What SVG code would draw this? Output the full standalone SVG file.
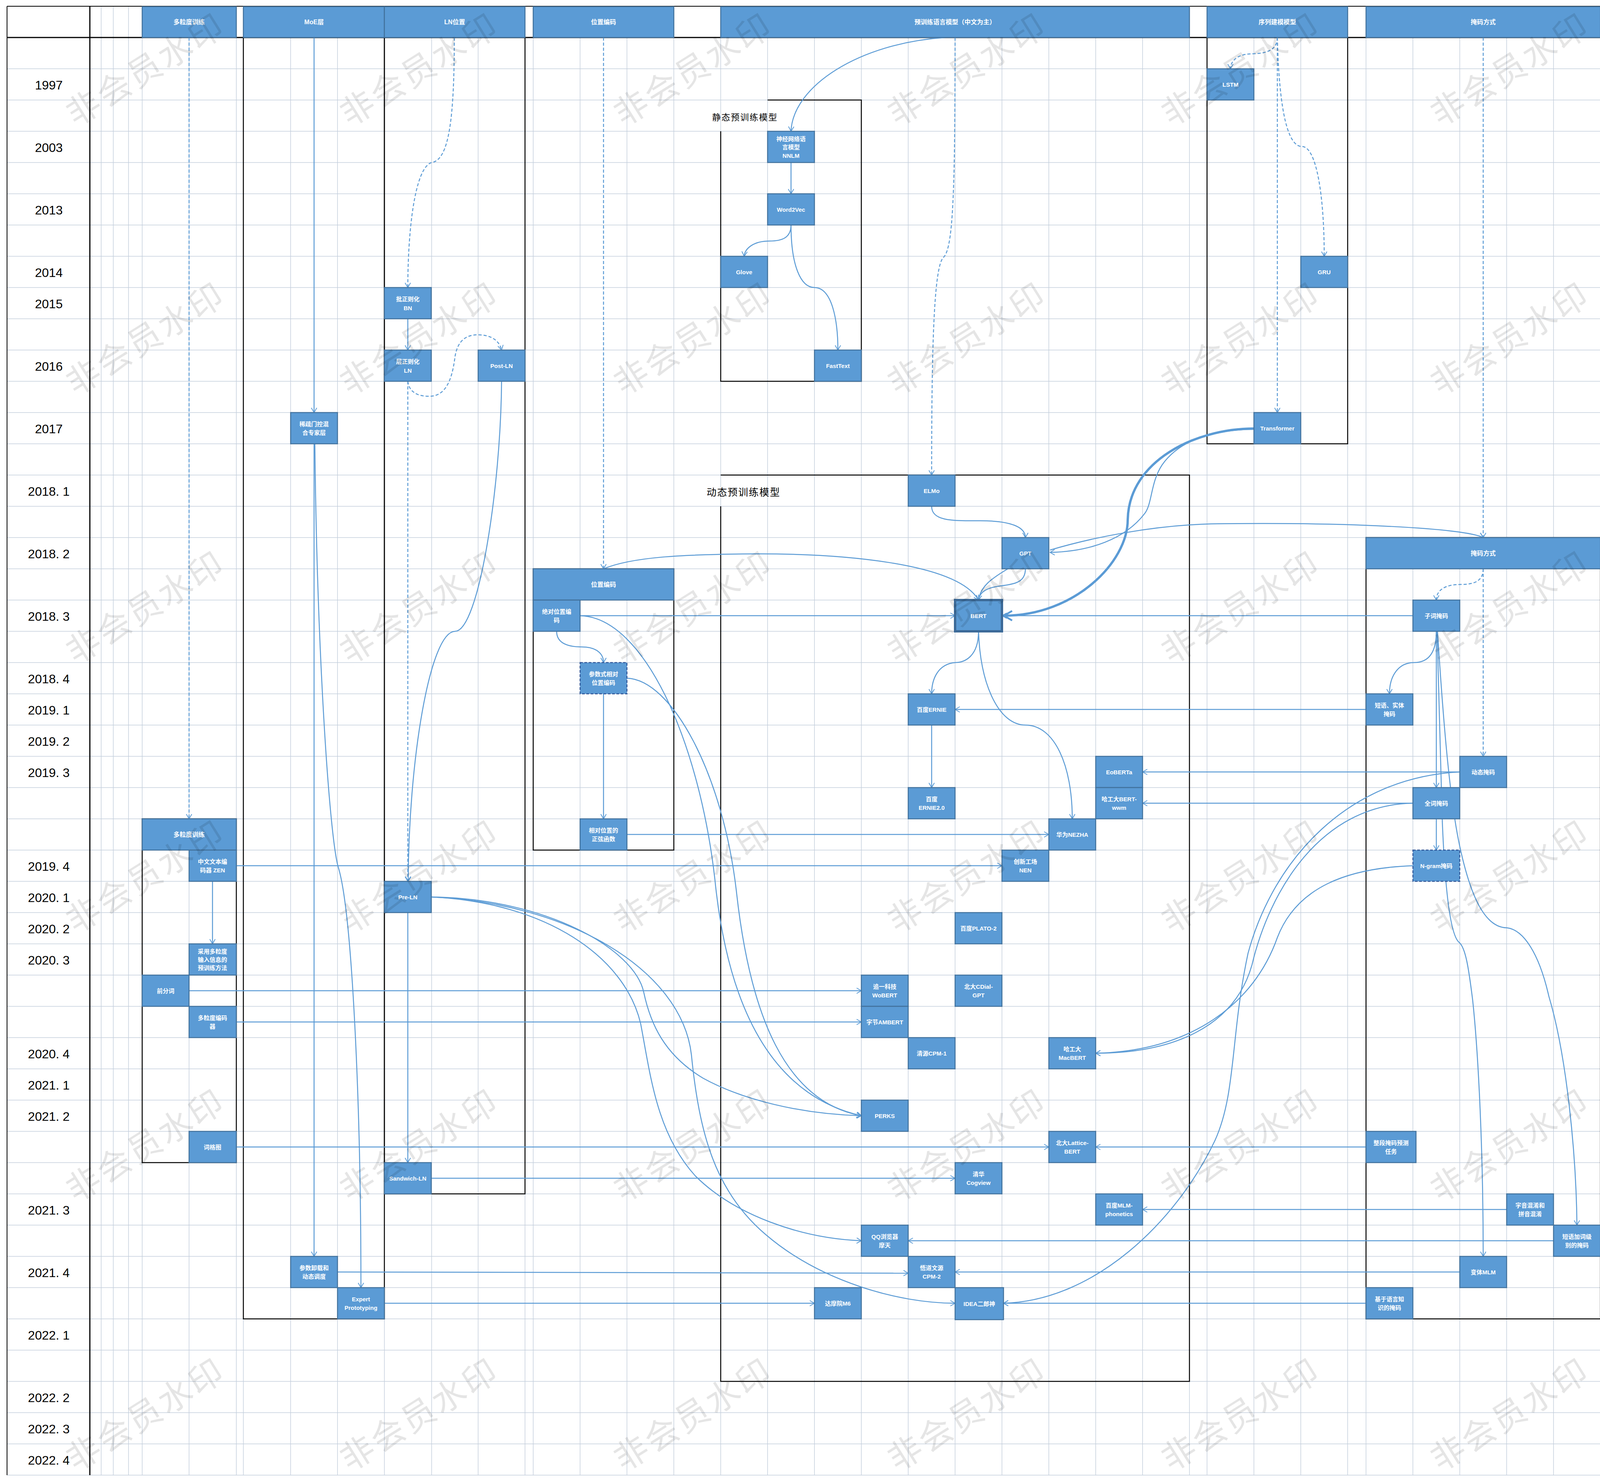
<svg xmlns="http://www.w3.org/2000/svg" width="4230" height="3791" viewBox="0 0 4230 3791">
<defs>
<style>
.g{fill:none;stroke:#C5CFDD;stroke-width:1.5}
.k{fill:none;stroke:#000;stroke-width:2.5}
.c{fill:none;stroke:#5B9BD5;stroke-width:2.5}
.d{fill:none;stroke:#5B9BD5;stroke-width:2.5;stroke-dasharray:8 5}
.n{fill:#5B9BD5;stroke:#41719C;stroke-width:2.5}
.nd{fill:#5B9BD5;stroke:#2F5597;stroke-width:2.5;stroke-dasharray:7 4}
.h{fill:#5B9BD5;stroke:#41719C;stroke-width:2.5}
.t{font-family:"Liberation Sans","Noto Sans CJK SC",sans-serif;font-size:15px;font-weight:bold;fill:#fff;text-anchor:middle;dominant-baseline:central}
.ht{font-family:"Liberation Sans","Noto Sans CJK SC",sans-serif;font-size:16px;font-weight:bold;fill:#fff;text-anchor:middle;dominant-baseline:central}
.y{font-family:"Liberation Sans","Noto Sans CJK SC",sans-serif;font-size:32px;fill:#000;text-anchor:middle;dominant-baseline:central}
.lb{font-family:"Noto Sans CJK SC",sans-serif;fill:#000;dominant-baseline:central}
.w{font-family:"Noto Sans CJK SC",sans-serif;font-size:86px;fill:#000;fill-opacity:0.1;text-anchor:middle;dominant-baseline:central;letter-spacing:6px}
</style>
<marker id="a" viewBox="0 0 14 16" refX="13" refY="8" markerWidth="14" markerHeight="16" markerUnits="userSpaceOnUse" orient="auto"><path d="M1,1 L13,8 L1,15" fill="none" stroke="#5B9BD5" stroke-width="2"/></marker>
<marker id="A" viewBox="0 0 14 16" refX="13" refY="8" markerWidth="26" markerHeight="28" markerUnits="userSpaceOnUse" orient="auto"><path d="M1,1 L13,8 L1,15" fill="none" stroke="#5B9BD5" stroke-width="2.6"/></marker>
</defs>
<rect x="0" y="0" width="4230" height="3791" fill="#fff"/>
<g id="grid">
<path class="g" d="M259,16V3776M290,16V3776M329,16V3776M364,16V3776M484,16V3776M605,16V3776M623,16V3776M744,16V3776M864,16V3776M984,16V3776M1105,16V3776M1224,16V3776M1344,16V3776M1365,16V3776M1485,16V3776M1605,16V3776M1725,16V3776M1845,16V3776M1965,16V3776M2085,16V3776M2205,16V3776M2325,16V3776M2445,16V3776M2565,16V3776M2685,16V3776M2805,16V3776M2925,16V3776M3045,16V3776M3090,16V3776M3210,16V3776M3330,16V3776M3450,16V3776M3497,16V3776M3617,16V3776M3737,16V3776M3857,16V3776M3977,16V3776M4097,16V3776M4217,16V3776"/>
<path class="g" d="M18,176H4217M18,256H4217M18,336H4217M18,416H4217M18,496H4217M18,576H4217M18,656H4217M18,736H4217M18,816H4217M18,896H4217M18,976H4217M18,1056H4217M18,1136H4217M18,1216H4217M18,1296H4217M18,1376H4217M18,1456H4217M18,1536H4217M18,1616H4217M18,1696H4217M18,1776H4217M18,1856H4217M18,1936H4217M18,2016H4217M18,2096H4217M18,2176H4217M18,2256H4217M18,2336H4217M18,2416H4217M18,2496H4217M18,2576H4217M18,2656H4217M18,2736H4217M18,2816H4217M18,2896H4217M18,2976H4217M18,3056H4217M18,3136H4217M18,3216H4217M18,3296H4217M18,3376H4217M18,3456H4217M18,3536H4217M18,3616H4217M18,3696H4217M18,3776H4217"/>
<path fill="none" stroke="#000" stroke-width="2" d="M18,16H4217M18,16V3776"/>
<path fill="none" stroke="#000" stroke-width="3" d="M18,96H4217M230,16V3776"/>
</g>
<g id="years">
<text class="y" x="125" y="218">1997</text>
<text class="y" x="125" y="378">2003</text>
<text class="y" x="125" y="538">2013</text>
<text class="y" x="125" y="698">2014</text>
<text class="y" x="125" y="778">2015</text>
<text class="y" x="125" y="938">2016</text>
<text class="y" x="125" y="1098">2017</text>
<text class="y" x="125" y="1258">2018. 1</text>
<text class="y" x="125" y="1418">2018. 2</text>
<text class="y" x="125" y="1578">2018. 3</text>
<text class="y" x="125" y="1738">2018. 4</text>
<text class="y" x="125" y="1818">2019. 1</text>
<text class="y" x="125" y="1898">2019. 2</text>
<text class="y" x="125" y="1978">2019. 3</text>
<text class="y" x="125" y="2218">2019. 4</text>
<text class="y" x="125" y="2298">2020. 1</text>
<text class="y" x="125" y="2378">2020. 2</text>
<text class="y" x="125" y="2458">2020. 3</text>
<text class="y" x="125" y="2698">2020. 4</text>
<text class="y" x="125" y="2778">2021. 1</text>
<text class="y" x="125" y="2858">2021. 2</text>
<text class="y" x="125" y="3098">2021. 3</text>
<text class="y" x="125" y="3258">2021. 4</text>
<text class="y" x="125" y="3418">2022. 1</text>
<text class="y" x="125" y="3578">2022. 2</text>
<text class="y" x="125" y="3658">2022. 3</text>
<text class="y" x="125" y="3738">2022. 4</text>
</g>
<g id="frames">
<rect class="k" x="623" y="96" width="361" height="3280"/>
<rect class="k" x="984" y="96" width="360" height="2960"/>
<rect class="k" x="364" y="2096" width="241" height="880"/>
<rect class="k" x="1365" y="1456" width="360" height="720"/>
<rect class="k" x="3090" y="96" width="360" height="1040"/>
<rect class="k" x="3497" y="1376" width="600" height="2000"/>
<path class="k" d="M1965,256H2205V976H1845V336"/>
<path class="k" d="M1845,1216H3045V3536H1845V1296"/>
<text class="lb" x="1823" y="298" font-size="22" letter-spacing="2">静态预训练模型</text>
<text class="lb" x="1809" y="1258" font-size="25" letter-spacing="2">动态预训练模型</text>
</g>
<g id="connectors">
<path class="d" marker-end="url(#a)" d="M484,96V2096"/>
<path class="c" marker-end="url(#a)" d="M804,96V1056"/>
<path class="c" marker-end="url(#a)" d="M804,1136V3216"/>
<path class="c" marker-end="url(#a)" d="M806,1136C812,1700 845,2150 866,2220C900,2330 924,2800 924,3296"/>
<path class="d" marker-end="url(#a)" d="M1163,96C1163,300 1150,410 1105,416C1060,430 1044,600 1044,736"/>
<path class="c" marker-end="url(#a)" d="M1044,816V896"/>
<path class="d" marker-end="url(#a)" d="M1044,976C1048,1010 1080,1016 1105,1014C1150,1010 1160,950 1165,912C1172,870 1195,857 1223,857C1255,857 1278,870 1284,896"/>
<path class="d" marker-end="url(#a)" d="M1044,976V2256"/>
<path class="c" marker-end="url(#a)" d="M1284,976C1282,1250 1225,1616 1165,1616C1100,1616 1046,1950 1045,2256"/>
<path class="c" marker-end="url(#a)" d="M1044,2336V2976"/>
<path class="c" marker-end="url(#a)" d="M1104,2296C1400,2300 1625,2430 1648,2540C1665,2620 1700,2700 1800,2760C1900,2815 2050,2852 2205,2856"/>
<path class="c" marker-end="url(#a)" d="M1104,2296C1400,2310 1600,2450 1640,2620C1665,2750 1680,2900 1780,3010C1880,3110 2050,3170 2205,3176"/>
<path class="c" marker-end="url(#a)" d="M1104,2296C1450,2310 1745,2480 1770,2700C1790,2900 1830,3050 1960,3160C2100,3280 2300,3336 2445,3336"/>
<path class="c" marker-end="url(#a)" d="M1104,3016H2445"/>
<path class="c" marker-end="url(#a)" d="M605,2216H2565"/>
<path class="c" marker-end="url(#a)" d="M544,2256V2416"/>
<path class="c" marker-end="url(#a)" d="M484,2536H2205"/>
<path class="c" marker-end="url(#a)" d="M605,2616H2205"/>
<path class="c" marker-end="url(#a)" d="M605,2936H2685"/>
<path class="c" marker-end="url(#a)" d="M864,3256L2325,3259"/>
<path class="c" marker-end="url(#a)" d="M984,3336H2085"/>
<path class="d" marker-end="url(#a)" d="M1545,96V1456"/>
<path class="c" marker-end="url(#a)" d="M1545,1456C1620,1425 1750,1420 1900,1418C2150,1415 2450,1440 2505,1536"/>
<path class="c" marker-end="url(#a)" d="M1485,1576H2445"/>
<path class="c" marker-end="url(#a)" d="M1425,1616C1425,1650 1460,1656 1490,1656C1525,1656 1545,1672 1545,1696"/>
<path class="c" marker-end="url(#a)" d="M1545,1776V2096"/>
<path class="c" marker-end="url(#a)" d="M1605,2136H2685"/>
<path class="c" marker-end="url(#a)" d="M1485,1576C1650,1580 1790,1900 1830,2250C1860,2550 1960,2800 2205,2856"/>
<path class="c" marker-end="url(#a)" d="M1605,1736C1720,1740 1850,1980 1885,2280C1920,2600 2010,2820 2205,2856"/>
<path class="c" marker-end="url(#a)" d="M2420,96C2200,110 2030,220 2025,336"/>
<path class="c" marker-end="url(#a)" d="M2025,416V496"/>
<path class="c" marker-end="url(#a)" d="M2025,576C2025,610 2000,617 1970,617C1930,617 1907,635 1905,656"/>
<path class="c" marker-end="url(#a)" d="M2025,576C2025,680 2050,736 2085,736C2130,736 2145,820 2145,896"/>
<path class="d" marker-end="url(#a)" d="M2445,96C2445,500 2440,640 2414,660C2390,690 2385,900 2385,1216"/>
<path class="c" marker-end="url(#a)" d="M2385,1296C2385,1335 2440,1333 2510,1333C2590,1333 2625,1350 2625,1376"/>
<path class="c" marker-end="url(#a)" d="M2625,1456C2625,1490 2600,1495 2560,1500C2520,1505 2507,1520 2505,1536"/>
<path class="c" d="M2580,1456C2540,1480 2510,1500 2505,1536"/>
<path class="c" marker-end="url(#a)" d="M2505,1616C2505,1680 2470,1696 2445,1696C2400,1700 2385,1740 2385,1776"/>
<path class="c" marker-end="url(#a)" d="M2505,1616C2510,1760 2560,1856 2625,1856C2700,1856 2745,1960 2745,2096"/>
<path class="c" marker-end="url(#a)" d="M2385,1856V2016"/>
<path fill="none" stroke="#5B9BD5" stroke-width="6" marker-end="url(#A)" d="M3210,1097C3060,1097 2890,1180 2887,1330C2887,1440 2750,1576 2570,1576"/>
<path class="c" marker-end="url(#a)" d="M3210,1099C3080,1100 3010,1140 2975,1190C2945,1235 2950,1290 2930,1315C2880,1380 2790,1412 2688,1414"/>
<path class="c" marker-end="url(#a)" d="M2688,1408C2800,1375 2950,1345 3100,1341C3450,1336 3750,1352 3797,1376"/>
<path class="d" marker-end="url(#a)" d="M3270,96C3270,135 3230,137 3200,138C3165,140 3150,158 3150,176"/>
<path class="d" marker-end="url(#a)" d="M3270,96V1056"/>
<path class="d" marker-end="url(#a)" d="M3270,96C3275,300 3300,375 3333,375C3370,375 3390,500 3390,656"/>
<path class="d" marker-end="url(#a)" d="M3797,96V1376"/>
<path class="d" marker-end="url(#a)" d="M3797,1456C3797,1490 3770,1496 3740,1496C3700,1496 3677,1510 3677,1536"/>
<path class="d" marker-end="url(#a)" d="M3797,1456V1936"/>
<path class="c" marker-end="url(#a)" d="M3617,1576H2565"/>
<path class="c" marker-end="url(#a)" d="M3677,1616C3677,1680 3650,1696 3620,1696C3580,1696 3557,1730 3557,1776"/>
<path class="c" marker-end="url(#a)" d="M3677,1616V2016"/>
<path class="c" marker-end="url(#a)" d="M3677,2096V2176"/>
<path class="c" marker-end="url(#a)" d="M3679,1616L3692,2095C3698,2250 3710,2390 3735,2412C3752,2425 3760,2480 3770,2560C3785,2700 3797,2950 3797,3216"/>
<path class="c" marker-end="url(#a)" d="M3680,1616C3695,1850 3712,2060 3740,2180C3765,2290 3800,2375 3858,2375C3900,2380 3940,2440 3965,2550C4010,2700 4035,2950 4037,3136"/>
<path class="c" marker-end="url(#a)" d="M3737,1976H2925"/>
<path class="c" marker-end="url(#a)" d="M3617,2056H2925"/>
<path class="c" marker-end="url(#a)" d="M3737,1976C3450,1990 3260,2200 3195,2440C3150,2650 3165,2800 3110,2920C3010,3130 2800,3330 2569,3336"/>
<path class="c" marker-end="url(#a)" d="M3617,2056C3380,2060 3250,2280 3205,2470C3160,2630 3000,2696 2805,2696"/>
<path class="c" marker-end="url(#a)" d="M3617,2216C3450,2222 3320,2270 3270,2400C3210,2570 3050,2690 2805,2696"/>
<path class="c" marker-end="url(#a)" d="M3497,1816H2445"/>
<path class="c" marker-end="url(#a)" d="M3497,2936H2805"/>
<path class="c" marker-end="url(#a)" d="M3857,3096H2925"/>
<path class="c" marker-end="url(#a)" d="M3977,3176H2325"/>
<path class="c" marker-end="url(#a)" d="M3737,3256H2445"/>
<path class="c" marker-end="url(#a)" d="M3497,3336H2569"/>
</g>
<g id="headers">
<g id="h-duolidu"><rect class="h" x="364" y="17" width="241" height="79"/><text class="ht" x="484" y="56">多粒度训练</text></g>
<g id="h-moe"><rect class="h" x="623" y="17" width="361" height="79"/><text class="ht" x="804" y="56">MoE层</text></g>
<g id="h-ln"><rect class="h" x="984" y="17" width="360" height="79"/><text class="ht" x="1164" y="56">LN位置</text></g>
<g id="h-pos"><rect class="h" x="1365" y="17" width="360" height="79"/><text class="ht" x="1545" y="56">位置编码</text></g>
<g id="h-plm"><rect class="h" x="1845" y="17" width="1200" height="79"/><text class="ht" x="2445" y="56">预训练语言模型（中文为主）</text></g>
<g id="h-seq"><rect class="h" x="3090" y="17" width="360" height="79"/><text class="ht" x="3270" y="56">序列建模模型</text></g>
<g id="h-mask"><rect class="h" x="3497" y="17" width="600" height="79"/><text class="ht" x="3797" y="56">掩码方式</text></g>
<g id="h-duolidu2"><rect class="h" x="364" y="2096" width="241" height="80"/><text class="ht" x="484" y="2136">多粒度训练</text></g>
<g id="h-pos2"><rect class="h" x="1365" y="1456" width="360" height="80"/><text class="ht" x="1545" y="1496">位置编码</text></g>
<g id="h-mask2"><rect class="h" x="3497" y="1376" width="600" height="80"/><text class="ht" x="3797" y="1416">掩码方式</text></g>
</g>
<g id="nodes">
<g id="n-bn"><rect class="n" x="984" y="736" width="120" height="80"/><text class="t" x="1044" y="765">批正则化</text><text class="t" x="1044" y="788">BN</text></g>
<g id="n-ln"><rect class="n" x="984" y="896" width="120" height="80"/><text class="t" x="1044" y="925">层正则化</text><text class="t" x="1044" y="948">LN</text></g>
<g id="n-postln"><rect class="n" x="1224" y="896" width="120" height="80"/><text class="t" x="1284" y="936">Post-LN</text></g>
<g id="n-preln"><rect class="n" x="984" y="2256" width="120" height="80"/><text class="t" x="1044" y="2296">Pre-LN</text></g>
<g id="n-sandwich"><rect class="n" x="984" y="2976" width="120" height="80"/><text class="t" x="1044" y="3016">Sandwich-LN</text></g>
<g id="n-moe1"><rect class="n" x="744" y="1056" width="120" height="80"/><text class="t" x="804" y="1085">稀疏门控混</text><text class="t" x="804" y="1107">合专家层</text></g>
<g id="n-moe2"><rect class="n" x="744" y="3216" width="120" height="80"/><text class="t" x="804" y="3245">参数卸载和</text><text class="t" x="804" y="3267">动态调度</text></g>
<g id="n-expert"><rect class="n" x="864" y="3296" width="120" height="80"/><text class="t" x="924" y="3325">Expert</text><text class="t" x="924" y="3347">Prototyping</text></g>
<g id="n-zen"><rect class="n" x="484" y="2176" width="121" height="80"/><text class="t" x="544" y="2205">中文文本编</text><text class="t" x="544" y="2227">码器 ZEN</text></g>
<g id="n-mg1"><rect class="n" x="484" y="2416" width="121" height="80"/><text class="t" x="544" y="2435">采用多粒度</text><text class="t" x="544" y="2456">输入信息的</text><text class="t" x="544" y="2477">预训练方法</text></g>
<g id="n-qfc"><rect class="n" x="364" y="2496" width="120" height="80"/><text class="t" x="424" y="2536">前分词</text></g>
<g id="n-mgenc"><rect class="n" x="484" y="2576" width="121" height="80"/><text class="t" x="544" y="2605">多粒度编码</text><text class="t" x="544" y="2627">器</text></g>
<g id="n-cgt"><rect class="n" x="484" y="2896" width="121" height="80"/><text class="t" x="544" y="2936">词格图</text></g>
<g id="n-abs"><rect class="n" x="1365" y="1536" width="120" height="80"/><text class="t" x="1425" y="1565">绝对位置编</text><text class="t" x="1425" y="1587">码</text></g>
<g id="n-rel"><rect class="nd" x="1485" y="1696" width="120" height="80"/><text class="t" x="1545" y="1725">参数式相对</text><text class="t" x="1545" y="1747">位置编码</text></g>
<g id="n-sin"><rect class="n" x="1485" y="2096" width="120" height="80"/><text class="t" x="1545" y="2125">相对位置的</text><text class="t" x="1545" y="2147">正弦函数</text></g>
<g id="n-nnlm"><rect class="n" x="1965" y="336" width="120" height="80"/><text class="t" x="2025" y="355">神经网络语</text><text class="t" x="2025" y="376">言模型</text><text class="t" x="2025" y="398">NNLM</text></g>
<g id="n-w2v"><rect class="n" x="1965" y="496" width="120" height="80"/><text class="t" x="2025" y="536">Word2Vec</text></g>
<g id="n-glove"><rect class="n" x="1845" y="656" width="120" height="80"/><text class="t" x="1905" y="696">Glove</text></g>
<g id="n-fasttext"><rect class="n" x="2085" y="896" width="120" height="80"/><text class="t" x="2145" y="936">FastText</text></g>
<g id="n-lstm"><rect class="n" x="3090" y="176" width="120" height="80"/><text class="t" x="3150" y="216">LSTM</text></g>
<g id="n-gru"><rect class="n" x="3330" y="656" width="120" height="80"/><text class="t" x="3390" y="696">GRU</text></g>
<g id="n-transformer"><rect class="n" x="3210" y="1056" width="120" height="80"/><text class="t" x="3270" y="1096">Transformer</text></g>
<g id="n-elmo"><rect class="n" x="2325" y="1216" width="120" height="80"/><text class="t" x="2385" y="1256">ELMo</text></g>
<g id="n-gpt"><rect class="n" x="2565" y="1376" width="120" height="80"/><text class="t" x="2625" y="1416">GPT</text></g>
<g id="n-bert"><rect fill="#5B9BD5" stroke="#3C6A98" stroke-width="6" x="2445" y="1536" width="120" height="80"/><text class="t" x="2505" y="1576">BERT</text></g>
<g id="n-ernie"><rect class="n" x="2325" y="1776" width="120" height="80"/><text class="t" x="2385" y="1816">百度ERNIE</text></g>
<g id="n-ernie2"><rect class="n" x="2325" y="2016" width="120" height="80"/><text class="t" x="2385" y="2045">百度</text><text class="t" x="2385" y="2067">ERNIE2.0</text></g>
<g id="n-eoberta"><rect class="n" x="2805" y="1936" width="120" height="80"/><text class="t" x="2865" y="1976">EoBERTa</text></g>
<g id="n-wwm"><rect class="n" x="2805" y="2016" width="120" height="80"/><text class="t" x="2865" y="2045">哈工大BERT-</text><text class="t" x="2865" y="2067">wwm</text></g>
<g id="n-nezha"><rect class="n" x="2685" y="2096" width="120" height="80"/><text class="t" x="2745" y="2136">华为NEZHA</text></g>
<g id="n-nen"><rect class="n" x="2565" y="2176" width="120" height="80"/><text class="t" x="2625" y="2205">创新工场</text><text class="t" x="2625" y="2227">NEN</text></g>
<g id="n-plato"><rect class="n" x="2445" y="2336" width="120" height="80"/><text class="t" x="2505" y="2376">百度PLATO-2</text></g>
<g id="n-cdial"><rect class="n" x="2445" y="2496" width="120" height="80"/><text class="t" x="2505" y="2525">北大CDial-</text><text class="t" x="2505" y="2547">GPT</text></g>
<g id="n-wobert"><rect class="n" x="2205" y="2496" width="120" height="80"/><text class="t" x="2265" y="2525">追一科技</text><text class="t" x="2265" y="2547">WoBERT</text></g>
<g id="n-ambert"><rect class="n" x="2205" y="2576" width="120" height="80"/><text class="t" x="2265" y="2616">字节AMBERT</text></g>
<g id="n-cpm1"><rect class="n" x="2325" y="2656" width="120" height="80"/><text class="t" x="2385" y="2696">清源CPM-1</text></g>
<g id="n-macbert"><rect class="n" x="2685" y="2656" width="120" height="80"/><text class="t" x="2745" y="2685">哈工大</text><text class="t" x="2745" y="2707">MacBERT</text></g>
<g id="n-perks"><rect class="n" x="2205" y="2816" width="120" height="80"/><text class="t" x="2265" y="2856">PERKS</text></g>
<g id="n-lattice"><rect class="n" x="2685" y="2896" width="120" height="80"/><text class="t" x="2745" y="2925">北大Lattice-</text><text class="t" x="2745" y="2947">BERT</text></g>
<g id="n-cogview"><rect class="n" x="2445" y="2976" width="120" height="80"/><text class="t" x="2505" y="3005">清华</text><text class="t" x="2505" y="3027">Cogview</text></g>
<g id="n-phon"><rect class="n" x="2805" y="3056" width="120" height="80"/><text class="t" x="2865" y="3085">百度MLM-</text><text class="t" x="2865" y="3107">phonetics</text></g>
<g id="n-qq"><rect class="n" x="2205" y="3136" width="120" height="80"/><text class="t" x="2265" y="3165">QQ浏览器</text><text class="t" x="2265" y="3187">摩天</text></g>
<g id="n-cpm2"><rect class="n" x="2325" y="3216" width="120" height="80"/><text class="t" x="2385" y="3245">悟道文源</text><text class="t" x="2385" y="3267">CPM-2</text></g>
<g id="n-m6"><rect class="n" x="2085" y="3296" width="120" height="80"/><text class="t" x="2145" y="3336">达摩院M6</text></g>
<g id="n-idea"><rect class="n" x="2445" y="3296" width="124" height="82"/><text class="t" x="2507" y="3337">IDEA二郎神</text></g>
<g id="n-subword"><rect class="n" x="3617" y="1536" width="120" height="80"/><text class="t" x="3677" y="1576">子词掩码</text></g>
<g id="n-phrase"><rect class="n" x="3497" y="1776" width="120" height="80"/><text class="t" x="3557" y="1805">短语、实体</text><text class="t" x="3557" y="1827">掩码</text></g>
<g id="n-dyn"><rect class="n" x="3737" y="1936" width="120" height="80"/><text class="t" x="3797" y="1976">动态掩码</text></g>
<g id="n-wwmask"><rect class="n" x="3617" y="2016" width="120" height="80"/><text class="t" x="3677" y="2056">全词掩码</text></g>
<g id="n-ngram"><rect class="nd" x="3617" y="2176" width="120" height="80"/><text class="t" x="3677" y="2216">N-gram掩码</text></g>
<g id="n-span"><rect class="n" x="3497" y="2896" width="128" height="80"/><text class="t" x="3561" y="2925">整段掩码预测</text><text class="t" x="3561" y="2947">任务</text></g>
<g id="n-pinyin"><rect class="n" x="3857" y="3056" width="120" height="80"/><text class="t" x="3917" y="3085">字音混淆和</text><text class="t" x="3917" y="3107">拼音混淆</text></g>
<g id="n-phraseword"><rect class="n" x="3977" y="3136" width="120" height="80"/><text class="t" x="4037" y="3165">短语加词级</text><text class="t" x="4037" y="3187">别的掩码</text></g>
<g id="n-variant"><rect class="n" x="3737" y="3216" width="120" height="80"/><text class="t" x="3797" y="3256">变体MLM</text></g>
<g id="n-ling"><rect class="n" x="3497" y="3296" width="120" height="80"/><text class="t" x="3557" y="3325">基于语言知</text><text class="t" x="3557" y="3347">识的掩码</text></g>
</g>
<g id="watermark">
<text class="w" transform="translate(369,172) rotate(-32)">非会员水印</text>
<text class="w" transform="translate(1070,172) rotate(-32)">非会员水印</text>
<text class="w" transform="translate(1771,172) rotate(-32)">非会员水印</text>
<text class="w" transform="translate(2472,172) rotate(-32)">非会员水印</text>
<text class="w" transform="translate(3173,172) rotate(-32)">非会员水印</text>
<text class="w" transform="translate(3862,172) rotate(-32)">非会员水印</text>
<text class="w" transform="translate(369,861) rotate(-32)">非会员水印</text>
<text class="w" transform="translate(1070,861) rotate(-32)">非会员水印</text>
<text class="w" transform="translate(1771,861) rotate(-32)">非会员水印</text>
<text class="w" transform="translate(2472,861) rotate(-32)">非会员水印</text>
<text class="w" transform="translate(3173,861) rotate(-32)">非会员水印</text>
<text class="w" transform="translate(3862,861) rotate(-32)">非会员水印</text>
<text class="w" transform="translate(369,1549) rotate(-32)">非会员水印</text>
<text class="w" transform="translate(1070,1549) rotate(-32)">非会员水印</text>
<text class="w" transform="translate(1771,1549) rotate(-32)">非会员水印</text>
<text class="w" transform="translate(2472,1549) rotate(-32)">非会员水印</text>
<text class="w" transform="translate(3173,1549) rotate(-32)">非会员水印</text>
<text class="w" transform="translate(3862,1549) rotate(-32)">非会员水印</text>
<text class="w" transform="translate(369,2238) rotate(-32)">非会员水印</text>
<text class="w" transform="translate(1070,2238) rotate(-32)">非会员水印</text>
<text class="w" transform="translate(1771,2238) rotate(-32)">非会员水印</text>
<text class="w" transform="translate(2472,2238) rotate(-32)">非会员水印</text>
<text class="w" transform="translate(3173,2238) rotate(-32)">非会员水印</text>
<text class="w" transform="translate(3862,2238) rotate(-32)">非会员水印</text>
<text class="w" transform="translate(369,2926) rotate(-32)">非会员水印</text>
<text class="w" transform="translate(1070,2926) rotate(-32)">非会员水印</text>
<text class="w" transform="translate(1771,2926) rotate(-32)">非会员水印</text>
<text class="w" transform="translate(2472,2926) rotate(-32)">非会员水印</text>
<text class="w" transform="translate(3173,2926) rotate(-32)">非会员水印</text>
<text class="w" transform="translate(3862,2926) rotate(-32)">非会员水印</text>
<text class="w" transform="translate(369,3615) rotate(-32)">非会员水印</text>
<text class="w" transform="translate(1070,3615) rotate(-32)">非会员水印</text>
<text class="w" transform="translate(1771,3615) rotate(-32)">非会员水印</text>
<text class="w" transform="translate(2472,3615) rotate(-32)">非会员水印</text>
<text class="w" transform="translate(3173,3615) rotate(-32)">非会员水印</text>
<text class="w" transform="translate(3862,3615) rotate(-32)">非会员水印</text>
</g>
</svg>
